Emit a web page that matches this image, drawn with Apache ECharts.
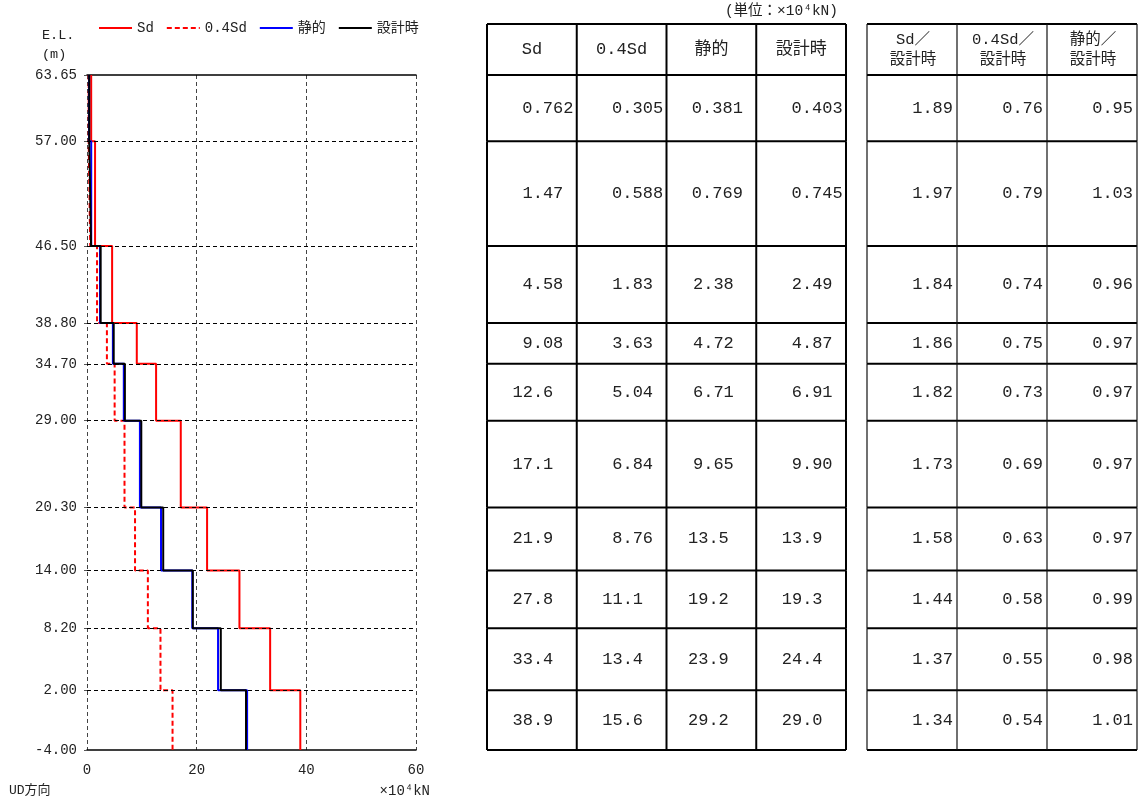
<!DOCTYPE html>
<html><head><meta charset="utf-8">
<script src="https://cdn.jsdelivr.net/npm/echarts@6/dist/echarts.min.js"></script>
<style>html,body{margin:0;padding:0;background:#fff}#c{width:1141px;height:802px}</style>
</head><body><div id="c"></div>
<script>
// ---------- data ----------
const levels = [63.65, 57.00, 46.50, 38.80, 34.70, 29.00, 20.30, 14.00, 8.20, 2.00, -4.00];
const xTicks = [0, 20, 40, 60];
const seriesNames = ['Sd', '0.4Sd', '静的', '設計時'];
const sd = [0.762, 1.47, 4.58, 9.08, 12.6, 17.1, 21.9, 27.8, 33.4, 38.9];
const sd04 = [0.305, 0.588, 1.83, 3.63, 5.04, 6.84, 8.76, 11.1, 13.4, 15.6];
const staticVals = [0.381, 0.769, 2.38, 4.72, 6.71, 9.65, 13.5, 19.2, 23.9, 29.2];
const design = [0.403, 0.745, 2.49, 4.87, 6.91, 9.90, 13.9, 19.3, 24.4, 29.0];
const ratioHeaders = ['Sd／\n設計時', '0.4Sd／\n設計時', '静的／\n設計時'];
const ratioSd = [1.89, 1.97, 1.84, 1.86, 1.82, 1.73, 1.58, 1.44, 1.37, 1.34];
const ratio04 = [0.76, 0.79, 0.74, 0.75, 0.73, 0.69, 0.63, 0.58, 0.55, 0.54];
const ratioStatic = [0.95, 1.03, 0.96, 0.97, 0.97, 0.97, 0.97, 0.99, 0.98, 1.01];
const yTitle = 'E.L.\n(m)';
const dirLabel = 'UD方向';
const unitAxis = '×10⁴kN';
const unitTable = '(単位：×10⁴kN)';

// ---------- helpers ----------
const FONT = "'Liberation Mono','Noto Sans CJK JP',monospace";
const table1Cols = [sd, sd04, staticVals, design];
const table2Cols = [ratioSd, ratio04, ratioStatic];
function stepData(vals) {
  const d = [];
  vals.forEach((v, i) => { d.push([v, levels[i]]); d.push([v, levels[i + 1]]); });
  return d;
}
const rowData = levels.slice(0, -1).map((l, i) => [i, l, levels[i + 1]]);
function dx1(j, v) {
  if (j === 2) return v < 1 ? 6 : (v < 10 ? 2 : -3);
  return v < 1 ? 16 : (v < 10 ? 11 : 1);
}
const HEADER_H = 51;

function renderTable1(params, api) {
  const i = api.value(0);
  const yT = api.coord([0, api.value(1)])[1];
  const yB = api.coord([0, api.value(2)])[1];
  const ch = [];
  const xs = [0, 1, 2, 3, 4].map(j => api.coord([j, 0])[0]);
  const lw = 2;
  ch.push({type: 'line', shape: {x1: xs[0], y1: yB, x2: xs[4], y2: yB}, style: {stroke: '#000', lineWidth: lw}});
  for (let j = 0; j <= 4; j++) {
    ch.push({type: 'line', shape: {x1: xs[j], y1: yT, x2: xs[j], y2: yB}, style: {stroke: '#000', lineWidth: lw}});
  }
  for (let j = 0; j < 4; j++) {
    const v = table1Cols[j][i];
    ch.push({type: 'text', style: {text: v.toPrecision(3), x: (xs[j] + xs[j + 1]) / 2 + dx1(j, v), y: (yT + yB) / 2,
      align: 'center', verticalAlign: 'middle', fontFamily: FONT, fontSize: 17, fill: '#222'}});
  }
  if (i === 0) {
    const yH = yT - HEADER_H;
    ch.push({type: 'line', shape: {x1: xs[0], y1: yH, x2: xs[4], y2: yH}, style: {stroke: '#000', lineWidth: lw}});
    ch.push({type: 'line', shape: {x1: xs[0], y1: yT, x2: xs[4], y2: yT}, style: {stroke: '#000', lineWidth: lw}});
    for (let j = 0; j <= 4; j++) {
      ch.push({type: 'line', shape: {x1: xs[j], y1: yH, x2: xs[j], y2: yT}, style: {stroke: '#000', lineWidth: lw}});
    }
    for (let j = 0; j < 4; j++) {
      ch.push({type: 'text', style: {text: seriesNames[j], x: (xs[j] + xs[j + 1]) / 2, y: (yH + yT) / 2,
        align: 'center', verticalAlign: 'middle', fontFamily: FONT, fontSize: 17, fill: '#222'}});
    }
  }
  return {type: 'group', children: ch};
}

function renderTable2(params, api) {
  const i = api.value(0);
  const yT = api.coord([0, api.value(1)])[1];
  const yB = api.coord([0, api.value(2)])[1];
  const ch = [];
  const xs = [0, 1, 2, 3].map(j => api.coord([j, 0])[0]);
  ch.push({type: 'line', shape: {x1: xs[0], y1: yB, x2: xs[3], y2: yB}, style: {stroke: '#000', lineWidth: 2}});
  for (let j = 0; j <= 3; j++) {
    ch.push({type: 'line', shape: {x1: xs[j], y1: yT, x2: xs[j], y2: yB}, style: {stroke: '#111', lineWidth: 1.2}});
  }
  for (let j = 0; j < 3; j++) {
    const v = table2Cols[j][i];
    ch.push({type: 'text', style: {text: v.toFixed(2), x: xs[j + 1] - 4, y: (yT + yB) / 2,
      align: 'right', verticalAlign: 'middle', fontFamily: FONT, fontSize: 17, fill: '#222'}});
  }
  if (i === 0) {
    const yH = yT - HEADER_H;
    ch.push({type: 'line', shape: {x1: xs[0], y1: yH, x2: xs[3], y2: yH}, style: {stroke: '#000', lineWidth: 2}});
    ch.push({type: 'line', shape: {x1: xs[0], y1: yT, x2: xs[3], y2: yT}, style: {stroke: '#000', lineWidth: 2}});
    for (let j = 0; j <= 3; j++) {
      ch.push({type: 'line', shape: {x1: xs[j], y1: yH, x2: xs[j], y2: yT}, style: {stroke: '#111', lineWidth: 1.2}});
    }
    for (let j = 0; j < 3; j++) {
      ch.push({type: 'text', style: {text: ratioHeaders[j], x: (xs[j] + xs[j + 1]) / 2 + 1, y: (yH + yT) / 2,
        align: 'center', verticalAlign: 'middle', fontFamily: FONT, fontSize: 15.5, lineHeight: 20, fill: '#222'}});
    }
  }
  return {type: 'group', children: ch};
}

const chart = echarts.init(document.getElementById('c'), null, {renderer: 'canvas'});
const hiddenAxis = {show: false};
const option = {
  animation: false,
  backgroundColor: '#fff',
  textStyle: {fontFamily: FONT},
  legend: {
    data: seriesNames, left: 93, top: 16, itemWidth: 33, itemHeight: 14, itemGap: 12,
    itemStyle: {opacity: 0, borderWidth: 0},
    textStyle: {fontFamily: FONT, fontSize: 14, color: '#222'}
  },
  grid: [
    {left: 87, top: 75, width: 329, height: 675},
    {left: 487, top: 75, width: 359, height: 675},
    {left: 867, top: 75, width: 270, height: 675}
  ],
  xAxis: [
    {gridIndex: 0, type: 'value', min: xTicks[0], max: xTicks[xTicks.length - 1], interval: 20,
      axisLine: {show: true, onZero: false, lineStyle: {color: '#000', width: 1.5}},
      axisTick: {show: false},
      axisLabel: {fontFamily: FONT, fontSize: 14, color: '#222', margin: 13},
      splitLine: {show: true, lineStyle: {color: '#444', type: [4, 3], width: 1}}},
    {gridIndex: 0, type: 'value', position: 'top', min: xTicks[0], max: xTicks[xTicks.length - 1],
      axisLine: {show: true, onZero: false, lineStyle: {color: '#000', width: 1.5}},
      axisTick: {show: false}, axisLabel: {show: false}, splitLine: {show: false}},
    Object.assign({gridIndex: 1, type: 'value', min: 0, max: 4}, hiddenAxis),
    Object.assign({gridIndex: 2, type: 'value', min: 0, max: 3}, hiddenAxis)
  ],
  yAxis: [
    {gridIndex: 0, type: 'value', min: levels[levels.length - 1], max: levels[0],
      axisLine: {show: false},
      axisTick: {show: true, customValues: levels, length: 3, lineStyle: {color: '#555'}},
      axisLabel: {customValues: levels, formatter: v => v.toFixed(2), fontFamily: FONT, fontSize: 14, color: '#222', margin: 10},
      splitLine: {show: false}},
    Object.assign({gridIndex: 1, type: 'value', min: levels[levels.length - 1], max: levels[0]}, hiddenAxis),
    Object.assign({gridIndex: 2, type: 'value', min: levels[levels.length - 1], max: levels[0]}, hiddenAxis)
  ],
  series: [
    {type: 'line', name: '_grid', data: [], xAxisIndex: 0, yAxisIndex: 0, z: 1, silent: true,
      markLine: {silent: true, symbol: 'none', label: {show: false}, animation: false,
        lineStyle: {color: '#000', type: [4, 3], width: 1},
        data: levels.slice(1, -1).map(l => ({yAxis: l}))}},
    {type: 'line', name: seriesNames[0], data: stepData(sd), symbol: 'none', z: 3,
      lineStyle: {color: '#ff0000', width: 2}, itemStyle: {color: '#ff0000'}},
    {type: 'line', name: seriesNames[1], data: stepData(sd04), symbol: 'none', z: 3,
      lineStyle: {color: '#ff0000', width: 2, type: [5, 3]}, itemStyle: {color: '#ff0000'}},
    {type: 'line', name: seriesNames[2], data: stepData(staticVals), symbol: 'none', z: 4,
      lineStyle: {color: '#0000ff', width: 2}, itemStyle: {color: '#0000ff'}},
    {type: 'line', name: seriesNames[3], data: stepData(design), symbol: 'none', z: 5,
      lineStyle: {color: '#000000', width: 2}, itemStyle: {color: '#000000'}},
    {type: 'custom', name: '_table1', xAxisIndex: 2, yAxisIndex: 1, data: rowData, clip: false,
      encode: {x: 0, y: [1, 2]}, renderItem: renderTable1, silent: true},
    {type: 'custom', name: '_table2', xAxisIndex: 3, yAxisIndex: 2, data: rowData, clip: false,
      encode: {x: 0, y: [1, 2]}, renderItem: renderTable2, silent: true}
  ],
  graphic: [
    {type: 'text', left: 42, top: 26, style: {text: yTitle, fontFamily: FONT, fontSize: 13.5, lineHeight: 19, fill: '#222', align: 'center'}},
    {type: 'text', left: 9, top: 784, style: {text: dirLabel, fontFamily: FONT, fontSize: 13, fill: '#222'}},
    {type: 'text', right: 711, top: 784, style: {text: unitAxis, fontFamily: FONT, fontSize: 14, fill: '#222'}},
    {type: 'text', right: 303, top: 4, style: {text: unitTable, fontFamily: FONT, fontSize: 14.5, fill: '#222'}}
  ]
};
chart.setOption(option);
</script></body></html>
